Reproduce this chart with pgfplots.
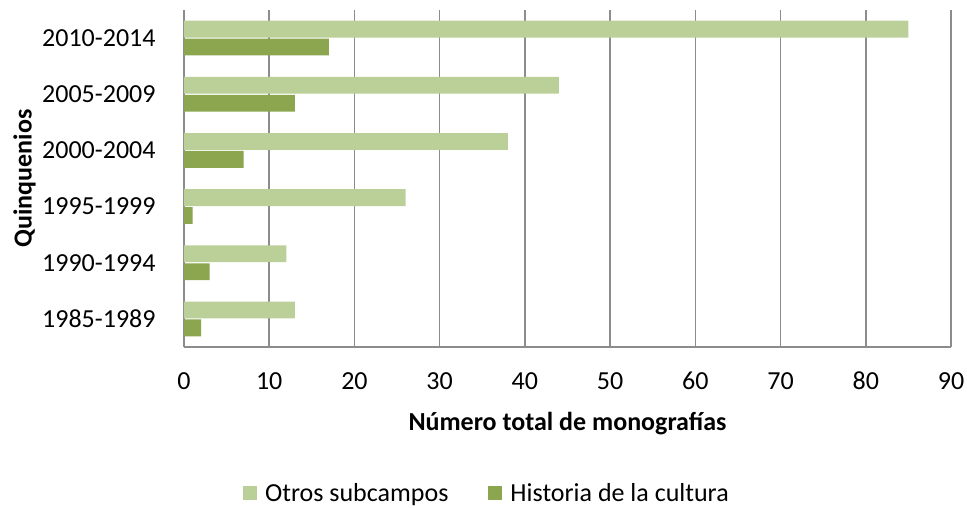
\documentclass[border=0pt]{standalone}
\usepackage{pgfplots}
\pgfplotsset{compat=1.18}
\usepackage{fontspec}
\setmainfont{Carlito}
\definecolor{otros}{HTML}{BBCF98}
\definecolor{historia}{HTML}{8BA64E}
\definecolor{gridc}{HTML}{8C8C8C}
\begin{document}
\begin{tikzpicture}[font=\fontsize{26}{30}\selectfont]
\begin{axis}[
  at={(0pt,0pt)}, anchor=south west,
  scale only axis, width=767pt, height=337pt,
  xbar, bar width=0.3,
  xmin=0, xmax=90, ymin=-0.5, ymax=5.5,
  xtick={0,10,...,90},
  ytick={0,...,5},
  yticklabels={1985-1989,1990-1994,1995-1999,2000-2004,2005-2009,2010-2014},
  /pgf/number format/assume math mode=true,
  axis lines*=left,
  axis line style={gridc, line width=1.6pt, -},
  tick style={draw=none},
  xmajorgrids, grid style={gridc, line width=1.6pt},
  xticklabel style={anchor=base, inner sep=0pt, yshift=-43pt},
  yticklabel style={anchor=east, inner sep=0pt, xshift=-24pt},
  xlabel={Número total de monografías},
  ylabel={Quinquenios},
  xlabel style={font=\fontsize{26}{30}\selectfont\bfseries, at={(axis description cs:0.5,-0.228)}, anchor=center},
  ylabel style={font=\fontsize{26}{30}\selectfont\bfseries, at={(axis description cs:-0.208,0.5)}, anchor=center},
  legend style={at={(axis description cs:0.395,-0.433)}, anchor=center, draw=none, fill=none,
    legend columns=2,
    /tikz/every odd column/.append style={column sep=6pt},
    /tikz/every even column/.append style={column sep=38pt},
    font=\fontsize{26}{30}\selectfont},
  legend image code/.code={\fill[#1] (0pt,-7pt) rectangle (14pt,7pt);},
]
\addplot[fill=otros, draw=none, bar shift=0.16] coordinates {(13,0) (12,1) (26,2) (38,3) (44,4) (85,5)};
\addplot[fill=historia, draw=none, bar shift=-0.16] coordinates {(2,0) (3,1) (1,2) (7,3) (13,4) (17,5)};
\legend{Otros subcampos, Historia de la cultura}
\end{axis}
\pgfresetboundingbox
\path[use as bounding box] (-184pt,-161pt) rectangle (783pt,347pt);
\end{tikzpicture}
\end{document}
